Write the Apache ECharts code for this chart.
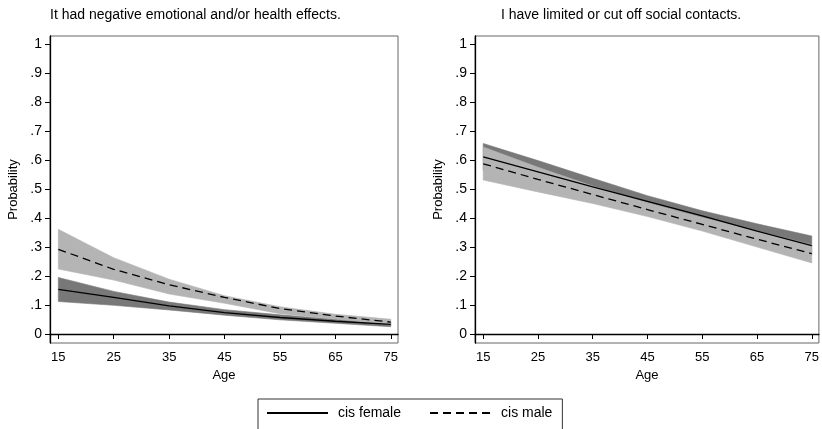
<!DOCTYPE html>
<html><head><meta charset="utf-8">
<script src="https://cdn.jsdelivr.net/npm/echarts@6/dist/echarts.min.js"></script>
<style>html,body{margin:0;padding:0;background:#fff}#c{width:822px;height:429px}</style>
</head><body><div id="c"></div>
<script>
const ages = [15, 25, 35, 45, 55, 65, 75];
const xTicks = [15, 25, 35, 45, 55, 65, 75];
const yTicks = [0, 0.1, 0.2, 0.3, 0.4, 0.5, 0.6, 0.7, 0.8, 0.9, 1];
const titles = ['It had negative emotional and/or health effects.', 'I have limited or cut off social contacts.'];
const groups = ['cis female', 'cis male'];

// Panel 1: negative emotional and/or health effects
const p1FemaleMean  = [0.154, 0.126, 0.097, 0.074, 0.057, 0.044, 0.033];
const p1FemaleUpper = [0.195, 0.147, 0.110, 0.084, 0.066, 0.051, 0.041];
const p1FemaleLower = [0.112, 0.099, 0.083, 0.065, 0.049, 0.037, 0.025];
const p1MaleMean    = [0.292, 0.223, 0.170, 0.126, 0.088, 0.062, 0.041];
const p1MaleUpper   = [0.361, 0.263, 0.189, 0.132, 0.094, 0.068, 0.051];
const p1MaleLower   = [0.224, 0.186, 0.138, 0.106, 0.070, 0.052, 0.032];

// Panel 2: limited or cut off social contacts
const p2FemaleMean  = [0.611, 0.559, 0.507, 0.457, 0.407, 0.355, 0.305];
const p2FemaleUpper = [0.657, 0.598, 0.537, 0.477, 0.425, 0.380, 0.338];
const p2FemaleLower = [0.565, 0.520, 0.477, 0.437, 0.389, 0.330, 0.272];
const p2MaleMean    = [0.587, 0.533, 0.481, 0.429, 0.378, 0.327, 0.277];
const p2MaleUpper   = [0.645, 0.575, 0.510, 0.453, 0.402, 0.355, 0.308];
const p2MaleLower   = [0.531, 0.490, 0.450, 0.405, 0.355, 0.300, 0.245];

const FONT = 'Liberation Sans, Arial, sans-serif';
const DARK = '#787878', LIGHT = '#b4b4b4';

function pairs(xs, ys) { return xs.map((x, i) => [x, ys[i]]); }

// confidence band drawn as a polygon through the axes' own coordinate system
function band(idx, lower, upper, color) {
  const rows = ages.map((a, i) => [a, lower[i], upper[i]]);
  return {
    type: 'custom', xAxisIndex: idx, yAxisIndex: idx, silent: true, z: 2,
    data: [0],
    encode: { x: [], y: [] },
    renderItem: function (params, api) {
      const top = rows.map(r => api.coord([r[0], r[2]]));
      const bot = rows.map(r => api.coord([r[0], r[1]])).reverse();
      return {
        type: 'polygon',
        shape: { points: top.concat(bot) },
        style: { fill: color, stroke: color, lineWidth: 0.6 }
      };
    }
  };
}
function meanLine(idx, name, vals, dashed) {
  return { type: 'line', name: name, xAxisIndex: idx, yAxisIndex: idx, symbol: 'none', z: 5,
    itemStyle: { color: '#000' },
    lineStyle: { color: '#000', width: 1.3, type: dashed ? [8, 5] : 'solid' },
    data: pairs(ages, vals) };
}

const yFmt = v => v === 0 ? '0' : v === 1 ? '1' : String(v).replace(/^0\./, '.');

function xAx(idx) {
  return { type: 'value', gridIndex: idx, min: 13.5, max: 76.3, name: 'Age', nameLocation: 'middle', nameGap: 20,
    nameTextStyle: { fontFamily: FONT, fontSize: 13, color: '#000' },
    axisLine: { show: true, lineStyle: { color: '#000', width: 1.3 } },
    axisTick: { show: true, length: 5, customValues: xTicks, lineStyle: { color: '#000' } },
    axisLabel: { customValues: xTicks, margin: 8, fontFamily: FONT, fontSize: 13, color: '#000' },
    splitLine: { show: false } };
}
function yAx(idx) {
  return { type: 'value', gridIndex: idx, min: -0.031, max: 1.0276, name: 'Probability', nameLocation: 'middle', nameGap: 30,
    nameTextStyle: { fontFamily: FONT, fontSize: 13, color: '#000' },
    axisLine: { show: true, lineStyle: { color: '#000', width: 1.3 } },
    axisTick: { show: true, length: 5, customValues: yTicks, lineStyle: { color: '#000' } },
    axisLabel: { customValues: yTicks, margin: 8, fontFamily: FONT, fontSize: 14, color: '#000', formatter: yFmt },
    splitLine: { show: false } };
}

const chart = echarts.init(document.getElementById('c'), null, { renderer: 'canvas' });
chart.setOption({
  animation: false,
  backgroundColor: '#fff',
  title: [
    { text: titles[0], left: 50, top: 8, padding: 0, textStyle: { fontFamily: FONT, fontSize: 14, fontWeight: 'normal', color: '#000' } },
    { text: titles[1], left: 501, top: 8, padding: 0, textStyle: { fontFamily: FONT, fontSize: 14, fontWeight: 'normal', color: '#000' } }
  ],
  grid: [
    { left: 50, top: 36, width: 348, height: 307, show: true, borderColor: '#666', borderWidth: 1, backgroundColor: '#fff' },
    { left: 475, top: 36, width: 348, height: 307, show: true, borderColor: '#666', borderWidth: 1, backgroundColor: '#fff' }
  ],
  xAxis: [xAx(0), xAx(1)],
  yAxis: [yAx(0), yAx(1)],
  legend: {
    left: 258, top: 399, orient: 'horizontal',
    padding: [7, 10, 12, 8], itemGap: 28, itemWidth: 61, itemHeight: 14,
    borderColor: '#333', borderWidth: 1, borderRadius: 0,
    itemStyle: { opacity: 0 },
    textStyle: { fontFamily: FONT, fontSize: 14, color: '#000', padding: [0, 0, 0, 5] },
    data: groups
  },
  series: [
    band(0, p1FemaleLower, p1FemaleUpper, DARK),
    band(0, p1MaleLower, p1MaleUpper, LIGHT),
    meanLine(0, groups[0], p1FemaleMean, false),
    meanLine(0, groups[1], p1MaleMean, true),
    band(1, p2FemaleLower, p2FemaleUpper, DARK),
    band(1, p2MaleLower, p2MaleUpper, LIGHT),
    meanLine(1, groups[0], p2FemaleMean, false),
    meanLine(1, groups[1], p2MaleMean, true)
  ]
});
</script></body></html>
